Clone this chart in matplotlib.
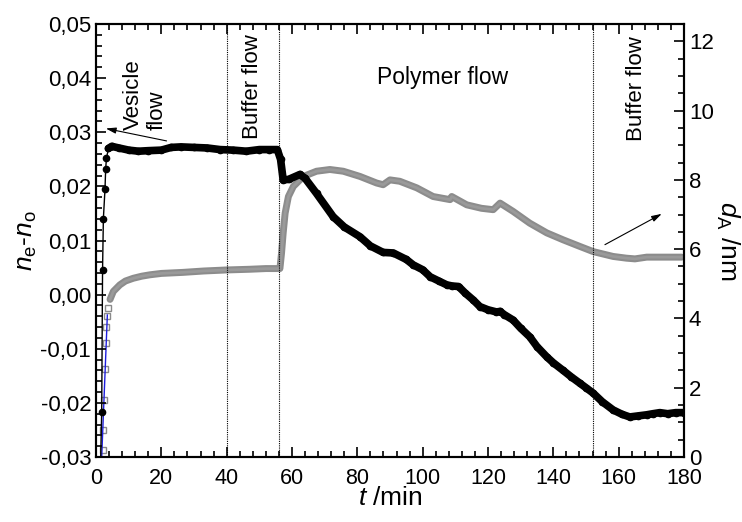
import numpy as np
import matplotlib
matplotlib.use("Agg")
import matplotlib.pyplot as plt
from matplotlib.ticker import MultipleLocator, FuncFormatter

plt.rcParams['font.family'] = ['Liberation Sans', 'DejaVu Sans']
plt.rcParams['mathtext.fontset'] = 'custom'
plt.rcParams['mathtext.rm'] = 'Liberation Sans'
plt.rcParams['mathtext.it'] = 'Liberation Sans:italic'

# n_e - n_o (left axis), black circles
t_n = [1.4, 1.74, 2.0, 2.25, 2.75, 2.96, 3.2, 3.8, 4.8, 7, 10, 13, 16, 20, 23,
       26, 30, 34, 38, 42, 46, 50, 53, 55.5, 56.5, 57.3, 59, 62.4, 64, 67.5,
       72.6, 76, 80.8, 84, 87.9, 91, 95, 97.1, 100, 102.3, 105, 107.4, 109,
       111, 113, 115.5, 117.5, 120, 122.6, 123.7, 125, 127.7, 130, 132.8, 135,
       138, 140, 143, 145.5, 148.2, 150, 152.2, 155, 158.3, 161, 163.4, 166,
       168.6, 170.5, 172.6, 175, 177.5, 180]
n_diff = [-0.031, -0.0216, 0.0045, 0.014, 0.0195, 0.0233, 0.0252, 0.027, 0.0274,
          0.0271, 0.0267, 0.0265, 0.0266, 0.0267, 0.0272, 0.0273, 0.0272, 0.0271,
          0.0268, 0.0267, 0.0265, 0.0268, 0.0268, 0.0268, 0.0250, 0.0212, 0.0213,
          0.0222, 0.0215, 0.0187, 0.0144, 0.0125, 0.0107, 0.0090, 0.0078, 0.0077,
          0.0065, 0.0055, 0.0046, 0.0033, 0.0025, 0.0018, 0.0016, 0.0015, 0.0003,
          -0.0010, -0.0022, -0.0028, -0.0032, -0.0031, -0.0037, -0.0047, -0.0062,
          -0.0078, -0.0096, -0.0115, -0.0126, -0.0140, -0.0152, -0.0164, -0.0172,
          -0.0182, -0.0198, -0.0213, -0.0221, -0.0226, -0.0224, -0.0222, -0.0220,
          -0.0218, -0.0220, -0.0218, -0.0218]

# d_A (right axis), grey squares
t_d = [1.6, 2.0, 2.05, 2.45, 2.75, 2.97, 3.16, 3.47, 3.8, 4.3, 5.3, 7.3, 9, 11.4,
       14, 16.5, 20, 26.6, 33, 40, 47, 52, 56.3, 56.8, 57.3, 57.9, 58.9, 60.4,
       63.5, 67.5, 71.6, 75.7, 80.8, 85.9, 87.9, 90, 93, 98.2, 103.2, 108.4,
       108.9, 113.5, 118, 121.6, 123.7, 127.7, 132.8, 138, 143, 148.1, 152.2,
       158.3, 162.4, 165, 168.6, 174, 179.3]
d_A = [-0.2, 0.2, 0.78, 1.65, 2.53, 3.29, 3.74, 4.07, 4.3, 4.55, 4.78, 4.97, 5.08,
       5.16, 5.22, 5.26, 5.3, 5.33, 5.37, 5.4, 5.42, 5.44, 5.44, 5.89, 6.47, 7.04,
       7.52, 7.81, 8.1, 8.25, 8.3, 8.25, 8.1, 7.91, 7.86, 8.0, 7.96, 7.77, 7.52,
       7.43, 7.52, 7.28, 7.18, 7.14, 7.33, 7.09, 6.75, 6.47, 6.27, 6.08, 5.93,
       5.79, 5.74, 5.72, 5.77, 5.77, 5.77]

# blue fit line at the start (right axis)
t_fit = [1.74, 3.47]
d_fit = [0.0, 4.1]

flow_changes = [40, 56, 152]

t_n = np.array(t_n); n_diff = np.array(n_diff)
t_d = np.array(t_d); d_A = np.array(d_A)

fig = plt.figure(figsize=(7.42, 5.22), dpi=100)
ax = fig.add_axes([0.1294, 0.1245, 0.7924, 0.8295])
ax2 = ax.twinx()
ax.set_zorder(ax2.get_zorder() + 1)
ax.patch.set_visible(False)

# grey series: sparse open squares at the start, dense band afterwards
dense = t_d >= 4.3
ax2.plot(t_d[dense], d_A[dense], color='#8c8c8c', lw=5, solid_capstyle='round',
         solid_joinstyle='round', zorder=2)
ax2.plot(t_d[dense], d_A[dense], color='#9a9a9a', lw=2, zorder=2)
ax2.plot(t_d[~dense], d_A[~dense], ls='none', marker='s', ms=4, mfc='white',
         mec='#8a8a8a', mew=1, zorder=3)
ax2.plot(t_fit, d_fit, color='#1f1fdd', lw=1, zorder=4)

# black series
ax.plot(t_n, n_diff, color='k', lw=1, marker='o', ms=4.5, zorder=3)
dense_n = t_n >= 3.8
ax.plot(t_n[dense_n], n_diff[dense_n], color='k', lw=5.5, solid_capstyle='round',
        solid_joinstyle='round', zorder=3)

for x in flow_changes:
    ax.axvline(x, color='k', ls=(0, (1, 1)), lw=0.8, zorder=1)

ax.set_xlim(0, 180)
ax.set_ylim(-0.03, 0.05)
ax2.set_ylim(0, 12.5)

ax.xaxis.set_major_locator(MultipleLocator(20))
ax.xaxis.set_minor_locator(MultipleLocator(4))
ax.yaxis.set_major_locator(MultipleLocator(0.01))
ax.yaxis.set_minor_locator(MultipleLocator(0.002))
ax2.yaxis.set_major_locator(MultipleLocator(2))
ax2.yaxis.set_minor_locator(MultipleLocator(0.5))


def comma_fmt(v, pos):
    s = f'{v:.2f}'
    if s == '-0.00':
        s = '0.00'
    return s.replace('.', ',')


ax.yaxis.set_major_formatter(FuncFormatter(comma_fmt))

for a in (ax, ax2):
    for sp in a.spines.values():
        sp.set_linewidth(1.5)
ax.tick_params(which='both', direction='in', top=True, right=False, width=1.2, labelsize=16)
ax.tick_params(which='major', length=7)
ax.tick_params(which='minor', length=4)
ax.tick_params(axis='x', pad=8, labelsize=15.5)
ax2.tick_params(which='both', direction='in', width=1.2, labelsize=16)
ax2.tick_params(which='major', length=7)
ax2.tick_params(which='minor', length=4)

ax.set_xlabel(r'$t$ /min', fontsize=19, labelpad=-2)
ax.set_ylabel(r'$n_{\mathrm{e}}$-$n_{\mathrm{o}}$', fontsize=19, labelpad=1)
ax2.set_ylabel(r'$d_{\mathrm{A}}$ /nm', fontsize=19, rotation=270, labelpad=20)

ax.text(15.0, 0.0305, 'Vesicle\nflow', rotation=90, ha='center', va='bottom',
        fontsize=16, multialignment='left', linespacing=1.15)
ax.text(47.8, 0.0384, 'Buffer flow', rotation=90, ha='center', va='center', fontsize=16)
ax.text(106, 0.0402, 'Polymer flow', ha='center', va='center', fontsize=16.5)
ax.text(165.5, 0.038, 'Buffer flow', rotation=90, ha='center', va='center', fontsize=16)

arrow = dict(arrowstyle='-|>,head_length=0.6,head_width=0.18', lw=0.8, color='k',
             shrinkA=0, shrinkB=0)
ax.annotate('', xy=(3.0, 0.0307), xytext=(21.6, 0.0284), arrowprops=arrow)
ax2.annotate('', xy=(173.2, 7.02), xytext=(155.8, 6.13), arrowprops=arrow)

fig.savefig('out.png', dpi=100)
